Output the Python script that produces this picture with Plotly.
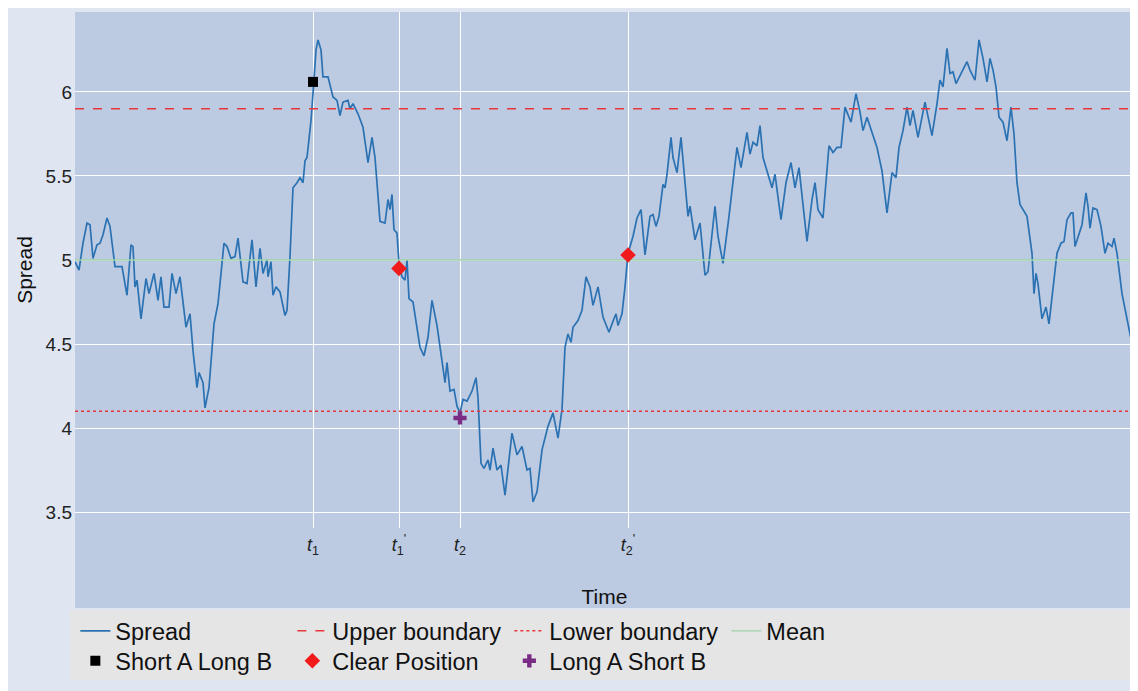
import plotly.graph_objects as go

# spread series (time in arbitrary units)
time_raw = [
    75, 79, 83, 87, 90, 93, 97, 100, 103, 107,
    110, 115, 122, 127, 131, 133, 135, 137, 141, 146,
    149, 154, 158, 161, 164, 169, 172, 176, 180, 186,
    190, 193, 197, 199, 203, 205, 209, 214, 218, 224,
    227, 231, 235, 238, 243, 247, 252, 256, 260, 263,
    267, 268, 271, 273, 276, 280, 285, 287, 290, 293,
    297, 300, 303, 305, 307, 311, 313, 316, 318, 321,
    323, 328, 333, 337, 340, 343, 348, 350, 353, 358,
    363, 368, 372, 375, 380, 385, 388, 390, 392, 394,
    397, 399, 402, 405, 407, 409, 413, 417, 420, 424,
    428, 432, 437, 442, 445, 447, 450, 454, 457, 460,
    463, 467, 472, 476, 478, 481, 484, 488, 490, 493,
    497, 501, 505, 512, 517, 522, 527, 530, 533, 537,
    542, 548, 553, 558, 562, 565, 568, 571, 573, 578,
    582, 586, 590, 593, 598, 603, 609, 612, 616, 618,
    622, 625, 628, 633, 637, 641, 645, 650, 653, 656,
    659, 663, 665, 667, 671, 673, 677, 681, 685, 688,
    690, 695, 700, 705, 708, 715, 718, 723, 729, 737,
    741, 747, 750, 753, 757, 760, 763, 772, 775, 781,
    786, 791, 795, 799, 807, 812, 815, 818, 823, 829,
    833, 837, 841, 845, 851, 856, 860, 863, 867, 877,
    882, 887, 892, 896, 899, 903, 907, 910, 913, 918,
    925, 932, 937, 940, 943, 947, 950, 953, 956, 960,
    967, 970, 975, 979, 983, 987, 990, 993, 996, 999,
    1003, 1007, 1011, 1014, 1017, 1020, 1023, 1027, 1032, 1034,
    1036, 1038, 1042, 1046, 1049, 1053, 1057, 1061, 1064, 1067,
    1071, 1073, 1075, 1082, 1086, 1088, 1090, 1093, 1097, 1101,
    1105, 1108, 1112, 1114, 1117, 1122, 1127, 1131, 1134,
]
spread = [
    4.99, 4.94, 5.10, 5.22, 5.21, 5.01, 5.09, 5.10, 5.15, 5.25,
    5.20, 4.96, 4.96, 4.79, 5.09, 5.08, 4.84, 4.88, 4.65, 4.89,
    4.80, 4.92, 4.76, 4.90, 4.72, 4.72, 4.92, 4.80, 4.90, 4.60,
    4.68, 4.46, 4.24, 4.33, 4.27, 4.12, 4.24, 4.62, 4.74, 5.10,
    5.08, 5.01, 5.02, 5.13, 4.87, 4.86, 5.12, 4.84, 5.07, 4.92,
    5.00, 4.90, 4.99, 4.79, 4.84, 4.81, 4.67, 4.70, 5.02, 5.43,
    5.46, 5.49, 5.46, 5.59, 5.61, 5.83, 5.99, 6.25, 6.31, 6.25,
    6.09, 6.09, 5.97, 5.95, 5.86, 5.94, 5.95, 5.90, 5.93, 5.87,
    5.79, 5.58, 5.73, 5.61, 5.23, 5.22, 5.36, 5.30, 5.39, 5.18,
    5.16, 4.98, 4.90, 4.88, 5.00, 4.77, 4.75, 4.58, 4.48, 4.43,
    4.54, 4.76, 4.61, 4.40, 4.27, 4.39, 4.22, 4.23, 4.13, 4.09,
    4.17, 4.16, 4.22, 4.30, 4.18, 3.79, 3.76, 3.81, 3.75, 3.88,
    3.75, 3.78, 3.60, 3.97, 3.84, 3.89, 3.75, 3.76, 3.56, 3.62,
    3.87, 4.01, 4.09, 3.94, 4.11, 4.48, 4.56, 4.51, 4.60, 4.64,
    4.70, 4.90, 4.84, 4.73, 4.84, 4.66, 4.57, 4.62, 4.68, 4.61,
    4.68, 4.84, 5.04, 5.14, 5.25, 5.30, 5.03, 5.26, 5.27, 5.20,
    5.26, 5.45, 5.43, 5.51, 5.73, 5.61, 5.52, 5.73, 5.43, 5.26,
    5.32, 5.12, 5.22, 4.91, 4.93, 5.32, 5.14, 4.98, 5.26, 5.67,
    5.55, 5.76, 5.63, 5.70, 5.68, 5.80, 5.61, 5.43, 5.51, 5.24,
    5.46, 5.58, 5.43, 5.55, 5.11, 5.36, 5.46, 5.30, 5.25, 5.68,
    5.64, 5.67, 5.67, 5.91, 5.82, 5.99, 5.88, 5.77, 5.85, 5.67,
    5.53, 5.28, 5.52, 5.49, 5.67, 5.77, 5.91, 5.80, 5.89, 5.73,
    5.94, 5.74, 5.93, 6.07, 6.03, 6.26, 6.11, 6.12, 6.05, 6.10,
    6.18, 6.13, 6.07, 6.31, 6.20, 6.06, 6.20, 6.13, 6.03, 5.85,
    5.82, 5.71, 5.91, 5.75, 5.46, 5.33, 5.30, 5.26, 5.04, 4.80,
    4.92, 4.86, 4.65, 4.72, 4.62, 4.84, 5.04, 5.10, 5.11, 5.24,
    5.28, 5.28, 5.08, 5.21, 5.40, 5.32, 5.19, 5.31, 5.30, 5.20,
    5.04, 5.10, 5.08, 5.13, 5.04, 4.80, 4.64, 4.52, 4.44,
]
time = [t - 75 for t in time_raw]

upper_boundary = 5.9
lower_boundary = 4.1
mean_level = 5.0

# trading signals
short_time = [238]
short_value = [6.06]
clear_time = [324, 553]
clear_value = [4.95, 5.03]
long_time = [385]
long_value = [4.06]

event_ticks = [238, 324, 385, 553]
event_labels = [
    "<i>t</i><sub>1</sub>",
    "<i>t</i><sub>1</sub><sup>'</sup>",
    "<i>t</i><sub>2</sub>",
    "<i>t</i><sub>2</sub><sup>'</sup>",
]
y_ticks = [3.5, 4, 4.5, 5, 5.5, 6]
y_labels = ["3.5", "4", "4.5", "5", "5.5", "6"]

x_span = [time[0], time[-1]]

fig = go.Figure()

fig.add_trace(go.Scatter(
    x=time, y=spread, mode="lines", name="Spread",
    line=dict(color="#2b72b3", width=1.7), legend="legend",
))
fig.add_trace(go.Scatter(
    x=x_span, y=[upper_boundary] * 2, mode="lines", name="Upper boundary",
    line=dict(color="#e8363a", width=1.6, dash="dash"), legend="legend",
))
fig.add_trace(go.Scatter(
    x=x_span, y=[lower_boundary] * 2, mode="lines", name="Lower boundary",
    line=dict(color="#e8363a", width=1.5, dash="dot"), legend="legend",
))
fig.add_trace(go.Scatter(
    x=x_span, y=[mean_level] * 2, mode="lines", name="Mean",
    line=dict(color="#9ed3a8", width=1.3), legend="legend",
))
fig.add_trace(go.Scatter(
    x=short_time, y=short_value, mode="markers", name="Short A Long B",
    marker=dict(symbol="square", color="black", size=10), legend="legend2",
))
fig.add_trace(go.Scatter(
    x=clear_time, y=clear_value, mode="markers", name="Clear Position",
    marker=dict(symbol="diamond", color="#f21b1b", size=12), legend="legend2",
))
fig.add_trace(go.Scatter(
    x=long_time, y=long_value, mode="markers", name="Long A Short B",
    marker=dict(symbol="cross", color="#7a2b86", size=11), legend="legend2",
))

plot_bg = "#bccae2"
legend_font = dict(size=23.5, color="#111111")

# page body adds an 8px margin, so the figure is 8px smaller than the window
fig.update_layout(
    width=1130,
    height=683,
    margin=dict(l=67, r=4, t=4, b=163),
    paper_bgcolor="#dfe6f2",
    plot_bgcolor=plot_bg,
    font=dict(family="Liberation Sans, Arial, sans-serif", color="#222222"),
    shapes=[
        # blue band under the x tick labels and title
        dict(type="rect", xref="paper", yref="paper", x0=0, x1=1,
             y0=-0.155, y1=0, fillcolor=plot_bg, line=dict(width=0),
             layer="below"),
        # grey legend box
        dict(type="rect", xref="paper", yref="paper", x0=-0.0047, x1=1,
             y0=-0.2946, y1=-0.159, fillcolor="#e5e5e5", line=dict(width=0),
             layer="below"),
    ],
    legend=dict(
        orientation="h", xref="container", yref="container",
        x=0.0596, y=0.0878, xanchor="left", yanchor="middle",
        bgcolor="rgba(0,0,0,0)", font=legend_font,
        entrywidth=172, entrywidthmode="pixels", itemwidth=30,
    ),
    legend2=dict(
        orientation="h", xref="container", yref="container",
        x=0.0596, y=0.0439, xanchor="left", yanchor="middle",
        bgcolor="rgba(0,0,0,0)", font=legend_font,
        entrywidth=172, entrywidthmode="pixels", itemwidth=30,
    ),
    showlegend=True,
)

fig.update_xaxes(
    range=[0, 1059], automargin=False,
    tickmode="array", tickvals=event_ticks, ticktext=event_labels,
    showgrid=True, gridcolor="white", gridwidth=1.3,
    zeroline=False, showline=False, ticks="",
    ticklabelstandoff=4,
    tickfont=dict(size=18, color="#222222"),
    title=dict(text="Time", font=dict(size=21, color="#111111"), standoff=32),
)
fig.update_yaxes(
    range=[3.405, 6.476], automargin=False,
    tickmode="array", tickvals=y_ticks, ticktext=y_labels,
    showgrid=True, gridcolor="white", gridwidth=1.3,
    zeroline=False, showline=False, ticks="",
    ticklabelstandoff=2,
    tickfont=dict(size=19, color="#222222"),
    title=dict(text="Spread", font=dict(size=21, color="#111111"), standoff=7),
)

fig.write_html("out.html")
